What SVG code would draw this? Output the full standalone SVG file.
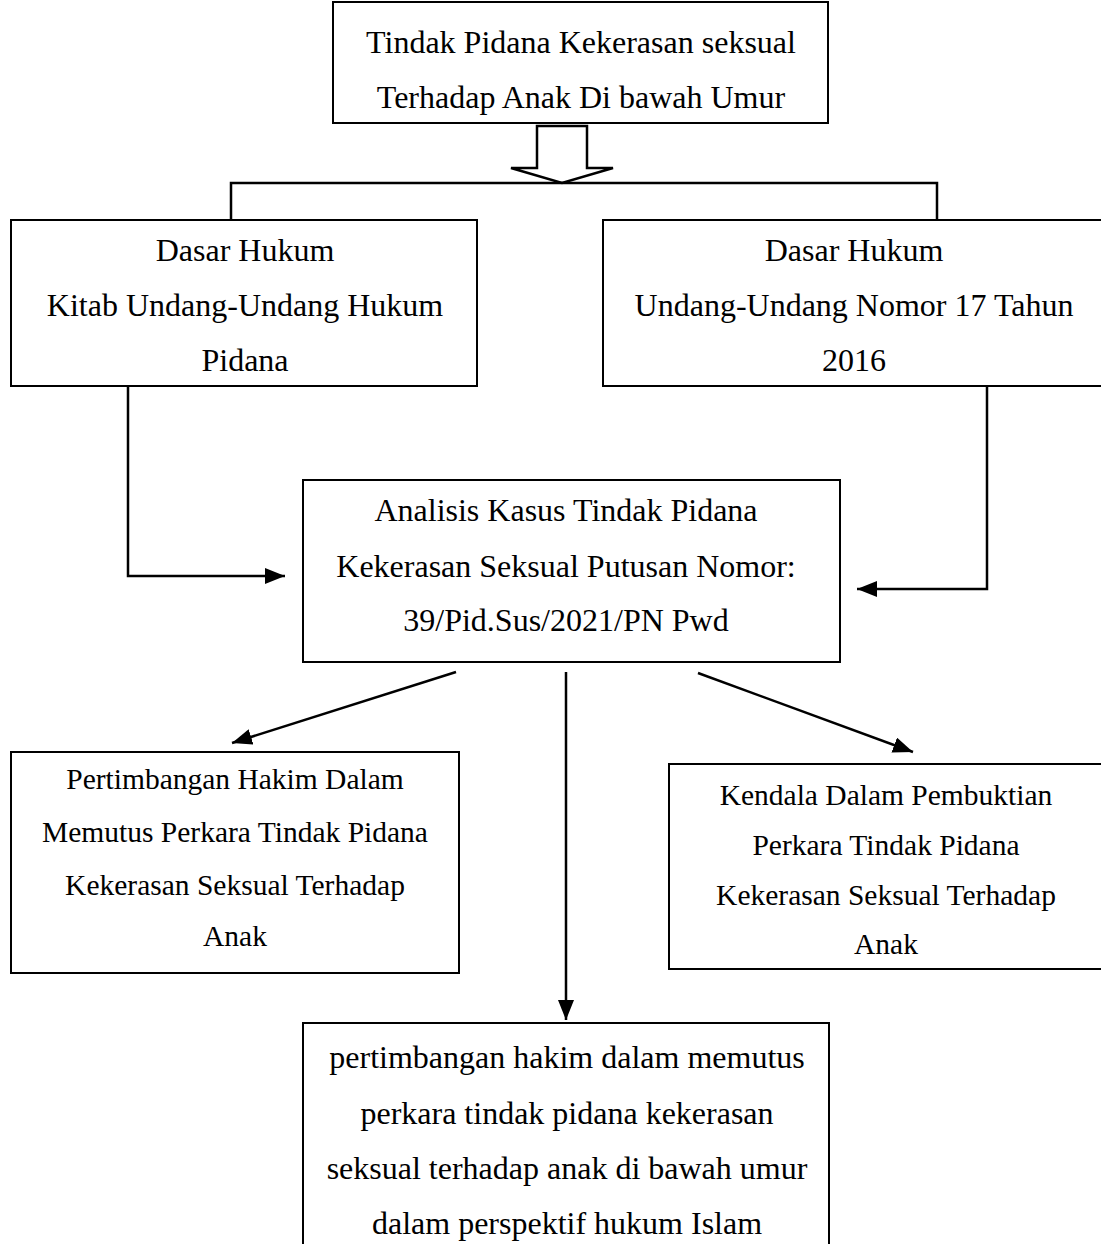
<svg xmlns="http://www.w3.org/2000/svg" width="1101" height="1244" viewBox="0 0 1101 1244">
<defs>
<style>
.box{fill:#fff;stroke:#000;stroke-width:2}
.t{font-family:'Liberation Serif','DejaVu Serif',serif;font-size:32px;fill:#000;text-anchor:middle}
.s{font-size:29.5px}
.c{fill:none;stroke:#000;stroke-width:2.5}
</style>
<marker id="ah2" markerWidth="20" markerHeight="16" refX="20" refY="8" orient="auto" markerUnits="userSpaceOnUse" viewBox="0 0 20 16">
<path d="M0,0 L20,8 L0,16 Z" fill="#000"/>
</marker>
</defs>
<rect width="1101" height="1244" fill="#fff"/>
<g id="connectors">
<path class="c" d="M537,126 L587,126 L587,168 L613,168 L562,183 L511,168 L537,168 Z"/>
<path class="c" d="M231,220 L231,183 L937,183 L937,220"/>
<path class="c" d="M128,386 L128,576 L285,576" marker-end="url(#ah2)"/>
<path class="c" d="M987,386 L987,589 L857,589" marker-end="url(#ah2)"/>
<line class="c" x1="456" y1="672" x2="232" y2="743" marker-end="url(#ah2)"/>
<line class="c" x1="698" y1="673" x2="913" y2="752" marker-end="url(#ah2)"/>
<line class="c" x1="566" y1="672" x2="566" y2="1020" marker-end="url(#ah2)"/>
</g>
<g id="n-top">
<rect class="box" x="333" y="2" width="495" height="121"/>
<text class="t" x="581" y="53">Tindak Pidana Kekerasan seksual</text>
<text class="t" x="581" y="108">Terhadap Anak Di bawah Umur</text>
</g>
<g id="n-kuhp">
<rect class="box" x="11" y="220" width="466" height="166"/>
<text class="t" x="245" y="261">Dasar Hukum</text>
<text class="t" x="245" y="316">Kitab Undang-Undang Hukum</text>
<text class="t" x="245" y="371">Pidana</text>
</g>
<g id="n-uu">
<rect class="box" x="603" y="220" width="510" height="166"/>
<text class="t" x="854" y="261">Dasar Hukum</text>
<text class="t" x="854" y="316">Undang-Undang Nomor 17 Tahun</text>
<text class="t" x="854" y="371">2016</text>
</g>
<g id="n-analisis">
<rect class="box" x="303" y="480" width="537" height="182"/>
<text class="t" x="566" y="521">Analisis Kasus Tindak Pidana</text>
<text class="t" x="566" y="577">Kekerasan Seksual Putusan Nomor:</text>
<text class="t" x="566" y="631">39/Pid.Sus/2021/PN Pwd</text>
</g>
<g id="n-pertimbangan">
<rect class="box" x="11" y="752" width="448" height="221"/>
<text class="t s" x="235" y="789">Pertimbangan Hakim Dalam</text>
<text class="t s" x="235" y="842">Memutus Perkara Tindak Pidana</text>
<text class="t s" x="235" y="895">Kekerasan Seksual Terhadap</text>
<text class="t s" x="235" y="946">Anak</text>
</g>
<g id="n-kendala">
<rect class="box" x="669" y="764" width="440" height="205"/>
<text class="t s" x="886" y="805">Kendala Dalam Pembuktian</text>
<text class="t s" x="886" y="855">Perkara Tindak Pidana</text>
<text class="t s" x="886" y="905">Kekerasan Seksual Terhadap</text>
<text class="t s" x="886" y="954">Anak</text>
</g>
<g id="n-islam">
<rect class="box" x="303" y="1023" width="526" height="240"/>
<text class="t" x="567" y="1068">pertimbangan hakim dalam memutus</text>
<text class="t" x="567" y="1124">perkara tindak pidana kekerasan</text>
<text class="t" x="567" y="1179">seksual terhadap anak di bawah umur</text>
<text class="t" x="567" y="1234">dalam perspektif hukum Islam</text>
</g>
</svg>
